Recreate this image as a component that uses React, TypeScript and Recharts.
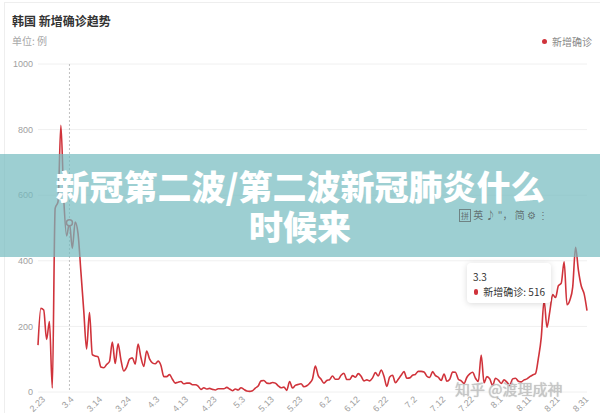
import { FC } from "react";
import { LineChart, Line, XAxis, YAxis, CartesianGrid, Tooltip } from "recharts";

// one category per day, 2.21 .. 8.31
const dates: string[] = [
  "2.21", "2.22", "2.23", "2.24", "2.25", "2.26", "2.27", "2.28", "2.29",
  "3.1", "3.2", "3.3", "3.4", "3.5", "3.6", "3.7", "3.8", "3.9", "3.10", "3.11", "3.12", "3.13", "3.14", "3.15", "3.16",
  "3.17", "3.18", "3.19", "3.20", "3.21", "3.22", "3.23", "3.24", "3.25", "3.26", "3.27", "3.28", "3.29", "3.30", "3.31",
  "4.1", "4.2", "4.3", "4.4", "4.5", "4.6", "4.7", "4.8", "4.9", "4.10", "4.11", "4.12", "4.13", "4.14", "4.15",
  "4.16", "4.17", "4.18", "4.19", "4.20", "4.21", "4.22", "4.23", "4.24", "4.25", "4.26", "4.27", "4.28", "4.29", "4.30",
  "5.1", "5.2", "5.3", "5.4", "5.5", "5.6", "5.7", "5.8", "5.9", "5.10", "5.11", "5.12", "5.13", "5.14", "5.15", "5.16",
  "5.17", "5.18", "5.19", "5.20", "5.21", "5.22", "5.23", "5.24", "5.25", "5.26", "5.27", "5.28", "5.29", "5.30", "5.31",
  "6.1", "6.2", "6.3", "6.4", "6.5", "6.6", "6.7", "6.8", "6.9", "6.10", "6.11", "6.12", "6.13", "6.14", "6.15",
  "6.16", "6.17", "6.18", "6.19", "6.20", "6.21", "6.22", "6.23", "6.24", "6.25", "6.26", "6.27", "6.28", "6.29", "6.30",
  "7.1", "7.2", "7.3", "7.4", "7.5", "7.6", "7.7", "7.8", "7.9", "7.10", "7.11", "7.12", "7.13", "7.14", "7.15", "7.16",
  "7.17", "7.18", "7.19", "7.20", "7.21", "7.22", "7.23", "7.24", "7.25", "7.26", "7.27", "7.28", "7.29", "7.30", "7.31",
  "8.1", "8.2", "8.3", "8.4", "8.5", "8.6", "8.7", "8.8", "8.9", "8.10", "8.11", "8.12", "8.13", "8.14", "8.15", "8.16",
  "8.17", "8.18", "8.19", "8.20", "8.21", "8.22", "8.23", "8.24", "8.25", "8.26", "8.27", "8.28", "8.29", "8.30", "8.31",
];

const newCases: number[] = [
  143, 255, 250, 160, 215, 12, 560, 580, 813,
  590, 476, 516, 438, 518, 483, 367, 248, 131, 242, 114, 110, 107, 76, 74, 84,
  93, 152, 87, 147, 98, 64, 76, 100, 104, 85, 146, 105, 78, 125, 101,
  89, 86, 94, 81, 47, 47, 53, 39, 27, 30, 32, 25, 27, 27, 22,
  22, 18, 8, 13, 9, 11, 8, 6, 10, 10, 10, 14, 9, 4, 9,
  6, 13, 8, 3, 2, 4, 12, 18, 34, 35, 27, 26, 29, 27, 19, 13,
  15, 5, 32, 12, 20, 23, 25, 16, 19, 27, 40, 79, 50, 39, 27,
  35, 38, 49, 39, 39, 51, 57, 38, 38, 50, 45, 56, 48, 34, 37,
  34, 43, 59, 49, 67, 48, 17, 46, 51, 28, 39, 51, 62, 42, 43,
  51, 54, 63, 63, 61, 48, 44, 62, 50, 45, 35, 55, 33, 39, 61, 60,
  39, 34, 26, 45, 55, 60, 42, 32, 113, 28, 47, 40, 20, 42, 36,
  26, 37, 30, 21, 40, 42, 33, 31, 37, 40, 47, 52, 56, 103, 166, 279,
  197, 246, 297, 288, 324, 332, 397, 266, 280, 320, 441, 371, 323, 299, 248,
];

const yTicks = [0, 200, 400, 600, 800, 1000];
const xTickLabels = [
  "2.23", "3.4", "3.14", "3.24", "4.3", "4.13", "4.23", "5.3", "5.13", "5.23",
  "6.2", "6.12", "6.22", "7.2", "7.12", "7.22", "8.1", "8.11", "8.21", "8.31",
];

const seriesName = "新增确诊";
const chartTitle = "韩国 新增确诊趋势";
const unitText = "单位: 例";
const bannerLines = ["新冠第二波/第二波新冠肺炎什么", "时候来"];
const watermarkText = "知乎 @渡理成神";
const tooltipIndex = 11; // 3.3

const RED = "#d0333b";
const CJK = '"Noto Sans CJK SC", sans-serif';
const NUM = '"Liberation Sans", Arial, sans-serif';

const data = dates.map((date, i) => ({ date, value: newCases[i] }));

const XTick: FC<any> = ({ x, y, payload }) => (
  <text
    x={x + 2}
    y={y}
    textAnchor="end"
    fontSize={9}
    fontFamily={NUM}
    fill="#a0a0a0"
    transform={`rotate(-45, ${x + 2}, ${y})`}
  >
    {payload.value}
  </text>
);

const TipBox: FC<any> = ({ active, payload, label }) => {
  if (!active || !payload || !payload.length) return null;
  return (
    <div
      style={{
        width: 84,
        height: 40,
        boxSizing: "border-box",
        background: "#fff",
        borderRadius: 4,
        boxShadow: "0 1px 6px rgba(0,0,0,0.15)",
        padding: "6px 6px",
        fontSize: 10,
        color: "#333",
        lineHeight: "15px",
        fontFamily: CJK,
        whiteSpace: "nowrap",
      }}
    >
      <div>{label}</div>
      <div style={{ display: "flex", alignItems: "center" }}>
        <span
          style={{
            display: "inline-block",
            width: 6,
            height: 6,
            borderRadius: 3,
            background: RED,
            marginLeft: 1,
            marginRight: 5,
          }}
        />
        {`${seriesName}: ${payload[0].value}`}
      </div>
    </div>
  );
};

const App: FC = () => {
  return (
    <div
      style={{
        position: "absolute",
        left: 0,
        top: 0,
        width: 600,
        height: 413,
        overflow: "hidden",
        background: "#fff",
        fontFamily: CJK,
      }}
    >
      {/* card edge */}
      <div
        style={{
          position: "absolute",
          left: 4,
          top: 2,
          width: 620,
          height: 430,
          border: "1px solid #eeeeee",
        }}
      />
      <div
        style={{
          position: "absolute",
          left: 12,
          top: 12,
          fontSize: 12,
          fontWeight: "bold",
          color: "#333",
          lineHeight: "18px",
        }}
      >
        {chartTitle}
      </div>
      <div
        style={{
          position: "absolute",
          left: 12,
          top: 33,
          fontSize: 10,
          color: "#a8a8a8",
          lineHeight: "15px",
        }}
      >
        {unitText}
      </div>
      <div
        style={{
          position: "absolute",
          left: 542,
          top: 34,
          fontSize: 10,
          color: "#888",
          lineHeight: "15px",
          display: "flex",
          alignItems: "center",
        }}
      >
        <span
          style={{
            display: "inline-block",
            width: 5,
            height: 5,
            borderRadius: 3,
            background: RED,
            marginRight: 5,
          }}
        />
        {seriesName}
      </div>

      <div style={{ position: "absolute", left: 0, top: 0 }}>
        <LineChart
          width={600}
          height={413}
          data={data}
          margin={{ top: 64, right: 13, left: 8, bottom: 0 }}
        >
          <CartesianGrid vertical={false} stroke="#f0f0f0" />
          <XAxis
            dataKey="date"
            ticks={xTickLabels}
            interval={0}
            height={21}
            axisLine={false}
            tickLine={false}
            tick={<XTick />}
          />
          <YAxis
            width={30}
            domain={[0, 1000]}
            ticks={yTicks}
            axisLine={false}
            tickLine={false}
            tickSize={3}
            tickMargin={2}
            tick={{ fontSize: 9, fill: "#a0a0a0", fontFamily: NUM }}
          />
          <Tooltip
            defaultIndex={tooltipIndex}
            active={true}
            position={{ x: 467, y: 263 }}
            content={<TipBox />}
            cursor={{ stroke: "#c0c0c0", strokeWidth: 1, strokeDasharray: "2 2" }}
            isAnimationActive={false}
          />
          <Line
            type="monotone"
            dataKey="value"
            name={seriesName}
            stroke={RED}
            strokeWidth={1.6}
            dot={false}
            activeDot={{ r: 3, fill: "#fff", stroke: RED, strokeWidth: 1.5 }}
            isAnimationActive={false}
          />
        </LineChart>
      </div>

      {/* overlay banner */}
      <div
        style={{
          position: "absolute",
          left: 0,
          top: 154,
          width: 600,
          height: 103,
          background: "rgba(115,187,191,0.7)",
        }}
      />
      {bannerLines.map((l, i) => (
        <div
          key={l}
          style={{
            position: "absolute",
            left: 300,
            top: 168 + i * 40,
            transform: "translateX(-50%)",
            whiteSpace: "nowrap",
            color: "#fff",
            fontSize: 34,
            fontWeight: 900,
            lineHeight: "36px",
          }}
        >
          {l}
        </div>
      ))}
      <div
        style={{
          position: "absolute",
          left: 459,
          top: 208,
          fontSize: 10,
          color: "rgba(80,80,80,0.75)",
          lineHeight: "13px",
          whiteSpace: "nowrap",
        }}
      >
        <span style={{ border: "1px solid rgba(80,80,80,0.6)", fontSize: 8, padding: "0 1px" }}>拼</span>
        {" 英 ♪ \"， 简 ⚙ ⋮"}
      </div>

      <div
        style={{
          position: "absolute",
          left: 455,
          top: 379,
          fontSize: 15,
          color: "rgba(200,200,200,0.9)",
          lineHeight: "20px",
          whiteSpace: "nowrap",
          textShadow: "0 0 1px rgba(120,120,120,0.6)",
        }}
      >
        {watermarkText}
      </div>
    </div>
  );
};

export default App;
